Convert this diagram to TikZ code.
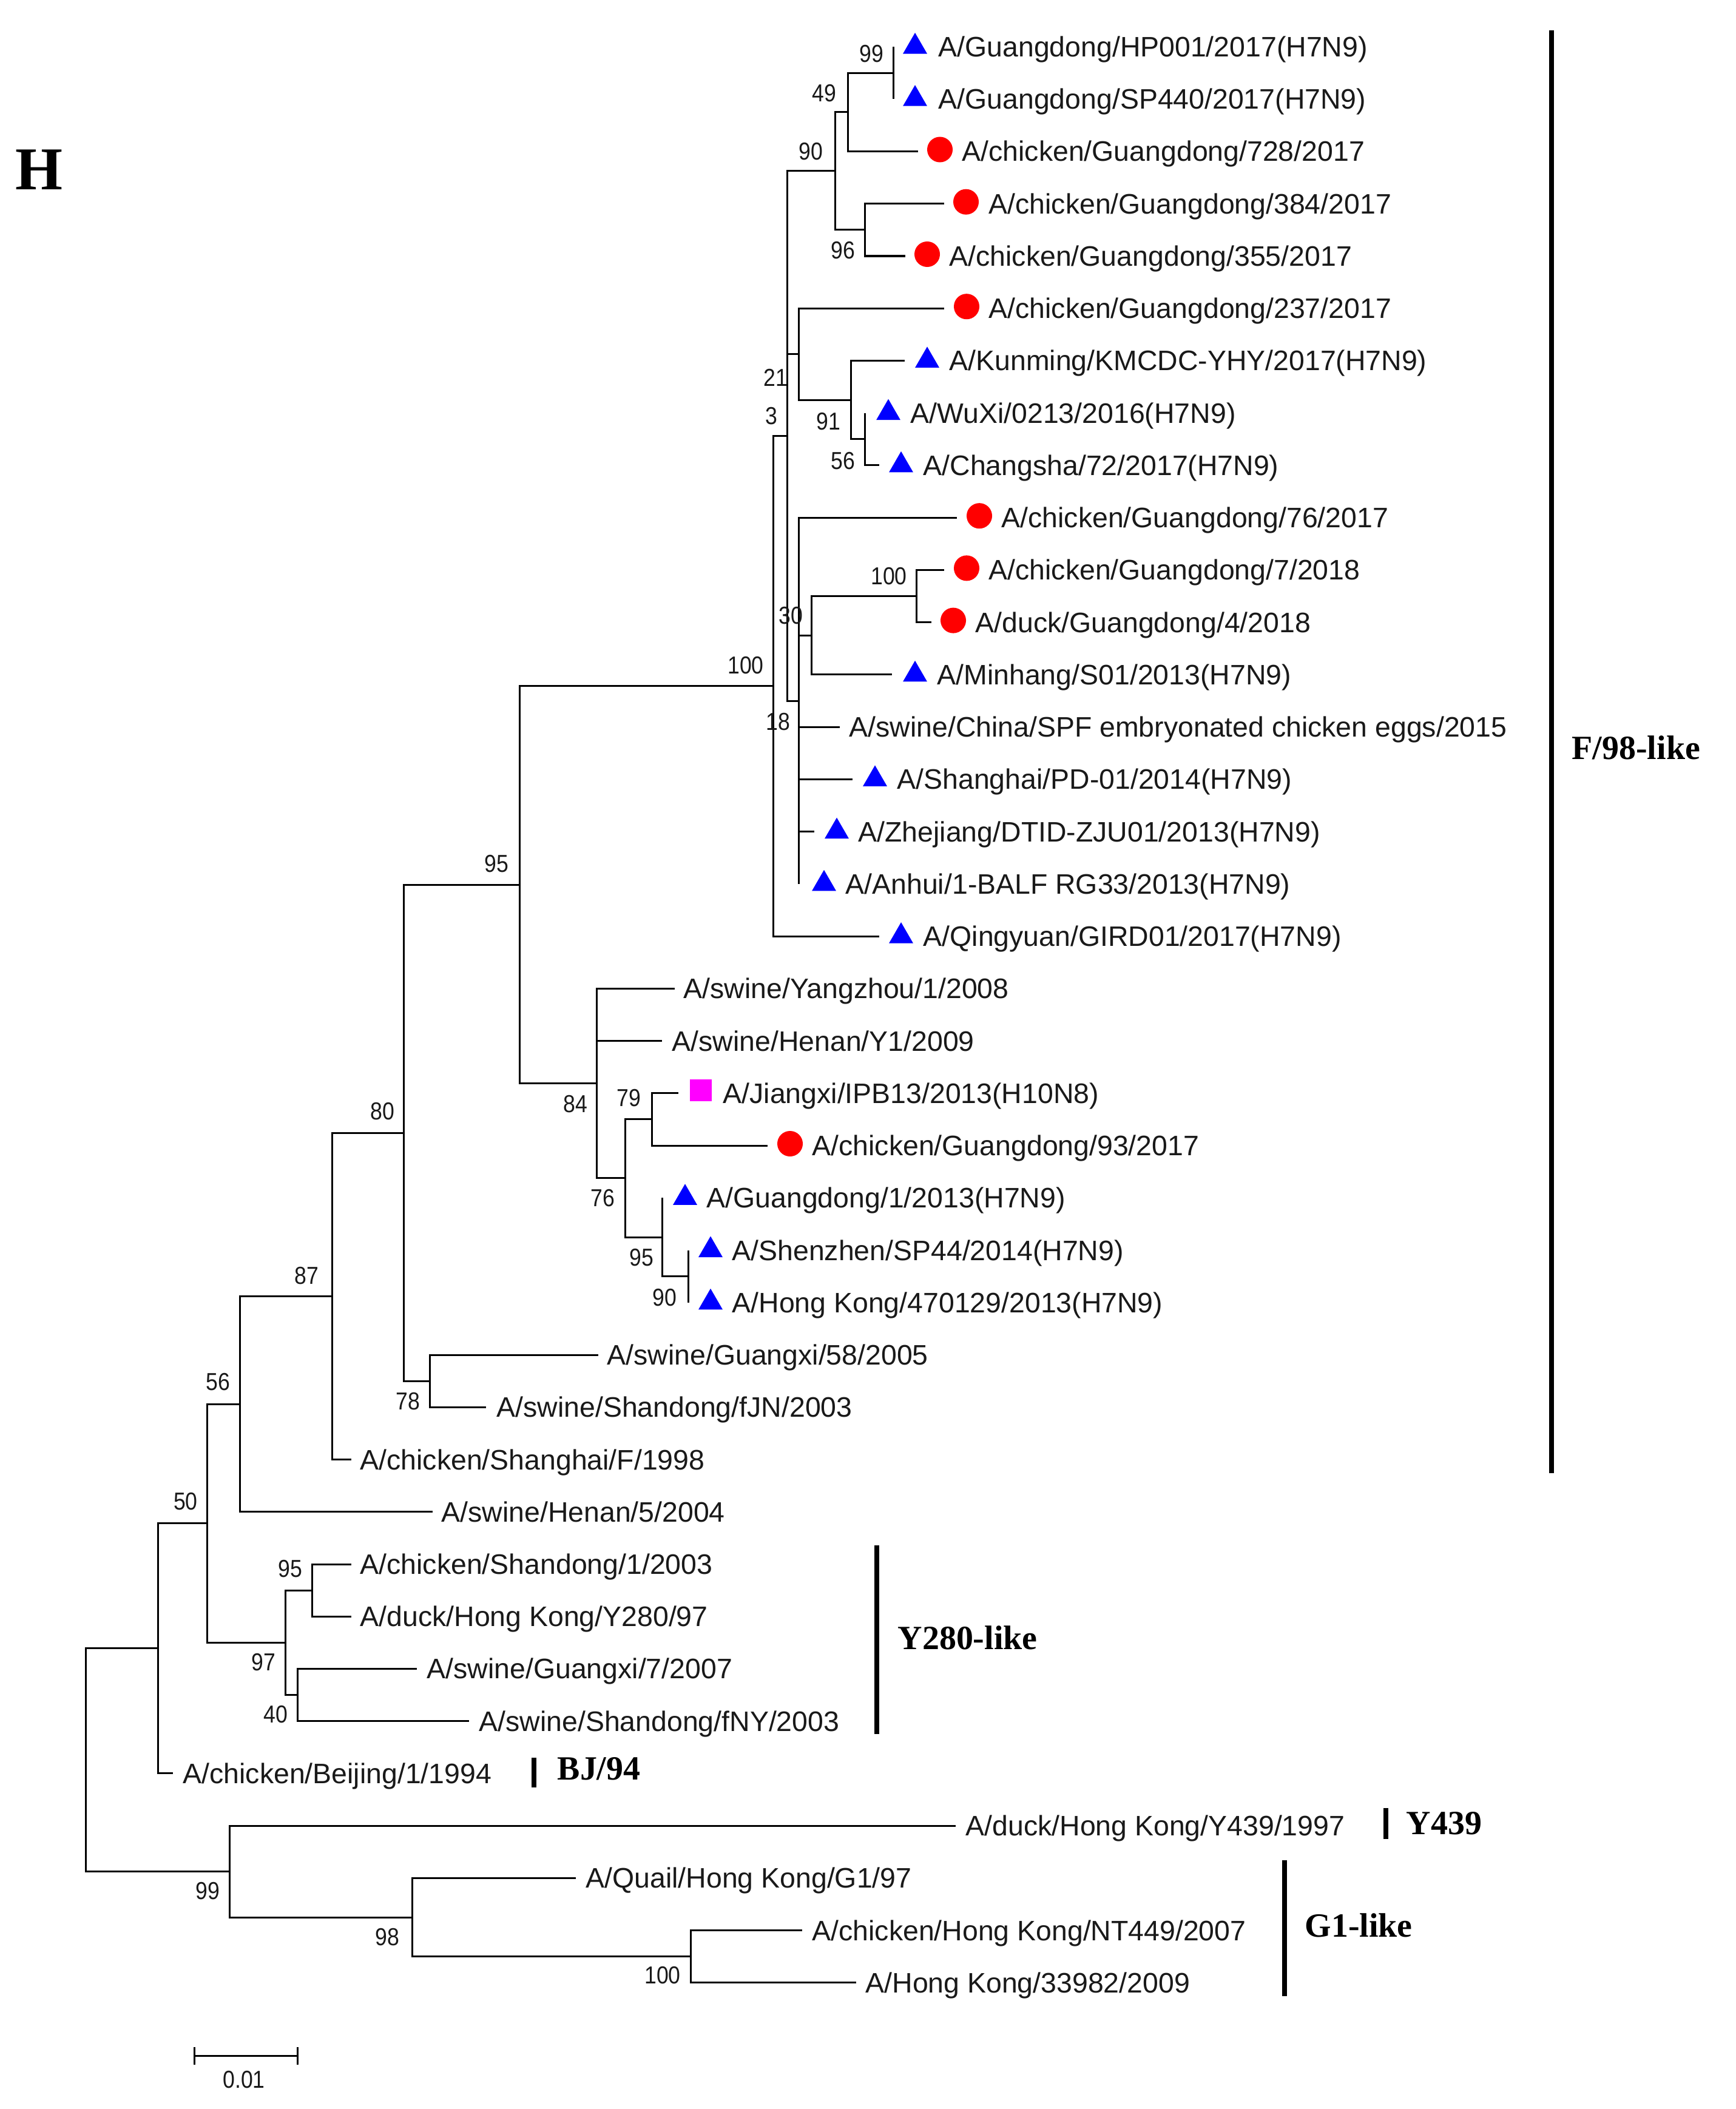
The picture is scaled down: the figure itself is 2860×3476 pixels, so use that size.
\documentclass[tikz,border=0pt]{standalone}
\usepackage{fontspec}
\setmainfont{Liberation Sans}
\newfontfamily\bsfont{Liberation Sans}[FakeStretch=0.88]
\newfontfamily\tnr{Liberation Serif}
\usetikzlibrary{shapes.geometric}
\definecolor{pmag}{RGB}{255,0,255}
\definecolor{pblue}{RGB}{0,0,255}
\definecolor{pred}{RGB}{255,0,0}
\tikzset{
  br/.style={line width=0.03cm, line cap=butt, line join=miter, black},
  leaf/.style={font=\fontsize{13.2}{15}\selectfont, anchor=base west, inner sep=0pt, text=black!90},
  bs/.style={font=\bsfont\fontsize{11.5}{13}\selectfont, inner sep=0pt, text=black!90},
  tri/.style={regular polygon, regular polygon sides=3, fill=pblue, minimum size=0.46cm, inner sep=0pt},
  rdot/.style={circle, fill=pred, minimum size=0.42cm, inner sep=0pt},
  sq/.style={rectangle, fill=pmag, minimum size=0.36cm, inner sep=0pt},
  clade/.style={font=\tnr\bfseries\fontsize{15.9}{18}\selectfont, anchor=base west, inner sep=0pt},
  cbar/.style={line width=0.08cm, black}
}
\begin{document}
\begin{tikzpicture}[x=0.01cm, y=-0.01cm]
\fill[white] (0,0) rectangle (2860,3476);
\useasboundingbox (0,0) rectangle (2860,3476);

% panel letter
\node[font=\tnr\bfseries\fontsize{28.5}{30}\selectfont, inner sep=0pt] (H) at (64,280) {H};

% leaf tips
\coordinate (l0) at (1472.5,77.0);
\coordinate (l1) at (1472.5,163.2);
\coordinate (l2) at (1513,249.5);
\coordinate (l3) at (1556,335.7);
\coordinate (l4) at (1492,422.0);
\coordinate (l5) at (1556,508.2);
\coordinate (l6) at (1491,594.4);
\coordinate (l7) at (1425.8,680.7);
\coordinate (l8) at (1449,766.9);
\coordinate (l9) at (1577,853.2);
\coordinate (l10) at (1556,939.4);
\coordinate (l11) at (1535,1025.6);
\coordinate (l12) at (1470,1111.9);
\coordinate (l13) at (1384,1198.1);
\coordinate (l14) at (1405,1284.4);
\coordinate (l15) at (1342,1370.6);
\coordinate (l16) at (1316.7,1456.8);
\coordinate (l17) at (1449,1543.1);
\coordinate (l18) at (1112,1629.3);
\coordinate (l19) at (1091,1715.6);
\coordinate (l20) at (1118,1801.8);
\coordinate (l21) at (1265,1888.0);
\coordinate (l22) at (1091.4,1974.3);
\coordinate (l23) at (1134,2060.5);
\coordinate (l24) at (1134,2146.8);
\coordinate (l25) at (986,2233.0);
\coordinate (l26) at (801,2319.2);
\coordinate (l27) at (579,2405.5);
\coordinate (l28) at (713,2491.7);
\coordinate (l29) at (579,2578.0);
\coordinate (l30) at (579,2664.2);
\coordinate (l31) at (687,2750.4);
\coordinate (l32) at (773,2836.7);
\coordinate (l33) at (285,2922.9);
\coordinate (l34) at (1575,3009.2);
\coordinate (l35) at (949,3095.4);
\coordinate (l36) at (1322,3181.6);
\coordinate (l37) at (1411,3267.9);

% internal nodes
\coordinate (n99t) at (1472.5,120.1);
\coordinate (n49) at (1397,184.8);
\coordinate (n96) at (1425,378.8);
\coordinate (n90) at (1376,281.8);
\coordinate (n56t) at (1425.8,723.8);
\coordinate (n91) at (1402.8,659.1);
\coordinate (nG) at (1316.7,583.7);
\coordinate (n100s) at (1510,982.5);
\coordinate (n30) at (1337.8,1047.2);
\coordinate (n18) at (1316.7,1155.0);
\coordinate (nX) at (1297.6,718.4);
\coordinate (n100b) at (1274.4,1130.7);
\coordinate (n90l) at (1134,2103.6);
\coordinate (n95s) at (1091.4,2039.0);
\coordinate (n79) at (1074,1844.9);
\coordinate (n76) at (1030,1941.9);
\coordinate (n84) at (983.4,1785.6);
\coordinate (n95b) at (856,1458.2);
\coordinate (n78) at (708,2276.1);
\coordinate (n80) at (665,1867.1);
\coordinate (n87) at (547.4,2136.3);
\coordinate (n56) at (395.2,2314.0);
\coordinate (n95Y) at (514,2621.1);
\coordinate (n40) at (490,2793.5);
\coordinate (n97) at (470.8,2707.3);
\coordinate (n50) at (341.6,2510.6);
\coordinate (nA) at (260,2716.8);
\coordinate (n100G) at (1138.8,3224.8);
\coordinate (n98) at (679.4,3160.1);
\coordinate (n99r) at (378,3084.6);
\coordinate (root) at (141.6,2900.7);

% branches
\foreach \p/\c in {n99t/l0,n99t/l1,n49/n99t,n49/l2,n96/l3,n96/l4,n90/n49,n90/n96,
  nX/n90,nX/nG,nX/n18,nG/l5,nG/n91,n91/l6,n91/n56t,n56t/l7,n56t/l8,
  n18/l9,n18/n30,n18/l13,n18/l14,n18/l15,n18/l16,n30/n100s,n30/l12,n100s/l10,n100s/l11,
  n100b/nX,n100b/l17,n95b/n100b,n95b/n84,n84/l18,n84/l19,n84/n76,n76/n79,n76/n95s,
  n79/l20,n79/l21,n95s/l22,n95s/n90l,n90l/l23,n90l/l24,n80/n95b,n80/n78,n78/l25,n78/l26,
  n87/n80,n87/l27,n56/n87,n56/l28,n50/n56,n50/n97,n97/n95Y,n97/n40,n95Y/l29,n95Y/l30,
  n40/l31,n40/l32,nA/n50,nA/l33,root/nA,root/n99r,n99r/l34,n99r/n98,n98/l35,n98/n100G,
  n100G/l36,n100G/l37}
  \draw[br] (\p) |- (\c);

% markers
\node[tri] (m0) at (1508,77.0) {};
\node[tri] (m1) at (1508,163.2) {};
\node[rdot] (m2) at (1549,246.5) {};
\node[rdot] (m3) at (1592,332.7) {};
\node[rdot] (m4) at (1528,419.0) {};
\node[rdot] (m5) at (1593,505.2) {};
\node[tri] (m6) at (1528,594.4) {};
\node[tri] (m7) at (1464,680.7) {};
\node[tri] (m8) at (1485,766.9) {};
\node[rdot] (m9) at (1614,850.2) {};
\node[rdot] (m10) at (1593,936.4) {};
\node[rdot] (m11) at (1571,1022.6) {};
\node[tri] (m12) at (1508,1111.9) {};
\node[tri] (m14) at (1442,1284.4) {};
\node[tri] (m15) at (1379,1370.6) {};
\node[tri] (m16) at (1358,1456.8) {};
\node[tri] (m17) at (1485,1543.1) {};
\node[sq] (m20) at (1155,1796.8) {};
\node[rdot] (m21) at (1302,1885.0) {};
\node[tri] (m22) at (1129,1974.3) {};
\node[tri] (m23) at (1171,2060.5) {};
\node[tri] (m24) at (1171,2146.8) {};

% leaf labels
\node[leaf] (t0) at (1546,93.5) {A/Guangdong/HP001/2017(H7N9)};
\node[leaf] (t1) at (1546,179.7) {A/Guangdong/SP440/2017(H7N9)};
\node[leaf] (t2) at (1585,266.0) {A/chicken/Guangdong/728/2017};
\node[leaf] (t3) at (1629,352.2) {A/chicken/Guangdong/384/2017};
\node[leaf] (t4) at (1564,438.5) {A/chicken/Guangdong/355/2017};
\node[leaf] (t5) at (1629,524.7) {A/chicken/Guangdong/237/2017};
\node[leaf] (t6) at (1564,610.9) {A/Kunming/KMCDC-YHY/2017(H7N9)};
\node[leaf] (t7) at (1500,697.2) {A/WuXi/0213/2016(H7N9)};
\node[leaf] (t8) at (1521,783.4) {A/Changsha/72/2017(H7N9)};
\node[leaf] (t9) at (1650,869.7) {A/chicken/Guangdong/76/2017};
\node[leaf] (t10) at (1629,955.9) {A/chicken/Guangdong/7/2018};
\node[leaf] (t11) at (1607,1042.1) {A/duck/Guangdong/4/2018};
\node[leaf] (t12) at (1544,1128.4) {A/Minhang/S01/2013(H7N9)};
\node[leaf] (t13) at (1399,1214.6) {A/swine/China/SPF embryonated chicken eggs/2015};
\node[leaf] (t14) at (1478,1300.9) {A/Shanghai/PD-01/2014(H7N9)};
\node[leaf] (t15) at (1414,1387.1) {A/Zhejiang/DTID-ZJU01/2013(H7N9)};
\node[leaf] (t16) at (1393,1473.3) {A/Anhui/1-BALF RG33/2013(H7N9)};
\node[leaf] (t17) at (1521,1559.6) {A/Qingyuan/GIRD01/2017(H7N9)};
\node[leaf] (t18) at (1126,1645.8) {A/swine/Yangzhou/1/2008};
\node[leaf] (t19) at (1107,1732.1) {A/swine/Henan/Y1/2009};
\node[leaf] (t20) at (1191,1818.3) {A/Jiangxi/IPB13/2013(H10N8)};
\node[leaf] (t21) at (1338,1904.5) {A/chicken/Guangdong/93/2017};
\node[leaf] (t22) at (1164,1990.8) {A/Guangdong/1/2013(H7N9)};
\node[leaf] (t23) at (1206,2077.0) {A/Shenzhen/SP44/2014(H7N9)};
\node[leaf] (t24) at (1206,2163.3) {A/Hong Kong/470129/2013(H7N9)};
\node[leaf] (t25) at (1000,2249.5) {A/swine/Guangxi/58/2005};
\node[leaf] (t26) at (818,2335.7) {A/swine/Shandong/fJN/2003};
\node[leaf] (t27) at (593,2422.0) {A/chicken/Shanghai/F/1998};
\node[leaf] (t28) at (727,2508.2) {A/swine/Henan/5/2004};
\node[leaf] (t29) at (593,2594.5) {A/chicken/Shandong/1/2003};
\node[leaf] (t30) at (593,2680.7) {A/duck/Hong Kong/Y280/97};
\node[leaf] (t31) at (703,2766.9) {A/swine/Guangxi/7/2007};
\node[leaf] (t32) at (789,2853.2) {A/swine/Shandong/fNY/2003};
\node[leaf] (t33) at (301,2939.4) {A/chicken/Beijing/1/1994};
\node[leaf] (t34) at (1591,3025.7) {A/duck/Hong Kong/Y439/1997};
\node[leaf] (t35) at (965,3111.9) {A/Quail/Hong Kong/G1/97};
\node[leaf] (t36) at (1338,3198.1) {A/chicken/Hong Kong/NT449/2007};
\node[leaf] (t37) at (1426,3284.4) {A/Hong Kong/33982/2009};

% bootstrap values
\node[bs] (b1) at (1436,89) {99};
\node[bs] (b2) at (1358,154) {49};
\node[bs] (b3) at (1336,250) {90};
\node[bs] (b4) at (1389,413) {96};
\node[bs] (b5) at (1278,622) {21};
\node[bs] (b6) at (1271,686) {3};
\node[bs] (b7) at (1365,695) {91};
\node[bs] (b8) at (1389,760) {56};
\node[bs] (b9) at (1465,950) {100};
\node[bs] (b10) at (1303,1015) {30};
\node[bs] (b11) at (1282,1190) {18};
\node[bs] (b12) at (1229,1097) {100};
\node[bs] (b13) at (818,1424) {95};
\node[bs] (b14) at (948,1820) {84};
\node[bs] (b15) at (1036,1810) {79};
\node[bs] (b16) at (993,1975) {76};
\node[bs] (b17) at (1057,2073) {95};
\node[bs] (b18) at (1095,2139) {90};
\node[bs] (b19) at (630,1832) {80};
\node[bs] (b20) at (505,2103) {87};
\node[bs] (b21) at (359,2278) {56};
\node[bs] (b22) at (672,2310) {78};
\node[bs] (b23) at (306,2475) {50};
\node[bs] (b24) at (478,2586) {95};
\node[bs] (b25) at (434,2740) {97};
\node[bs] (b26) at (454,2826) {40};
\node[bs] (b27) at (342,3117) {99};
\node[bs] (b28) at (638,3193) {98};
\node[bs] (b29) at (1092,3256) {100};

% clade bars and names
\coordinate (fa) at (2557,50);  \coordinate (fb) at (2557,2428);
\draw[cbar] (fa) -- (fb);
\node[clade] (cF) at (2590,1251) {F/98-like};
\coordinate (ya) at (1445,2547); \coordinate (yb) at (1445,2858);
\draw[cbar] (ya) -- (yb);
\node[clade] (cY) at (1479,2718) {Y280-like};
\coordinate (ba) at (880,2897); \coordinate (bb) at (880,2946);
\draw[cbar] (ba) -- (bb);
\node[clade] (cB) at (918,2933) {BJ/94};
\coordinate (qa) at (2284,2980); \coordinate (qb) at (2284,3031);
\draw[cbar] (qa) -- (qb);
\node[clade] (cQ) at (2317,3023) {Y439};
\coordinate (ga) at (2117,3066); \coordinate (gb) at (2117,3290);
\draw[cbar] (ga) -- (gb);
\node[clade] (cG) at (2150,3192) {G1-like};

% scale bar
\coordinate (sbL) at (320.6,3388); \coordinate (sbR) at (490,3388);
\draw[br] (sbL) -- (sbR);
\draw[br] ([yshift=0.14cm]sbL) -- ([yshift=-0.15cm]sbL);
\draw[br] ([yshift=0.14cm]sbR) -- ([yshift=-0.15cm]sbR);
\node[bs] (sbt) at (402,3428) {0.01};
\end{tikzpicture}
\end{document}
